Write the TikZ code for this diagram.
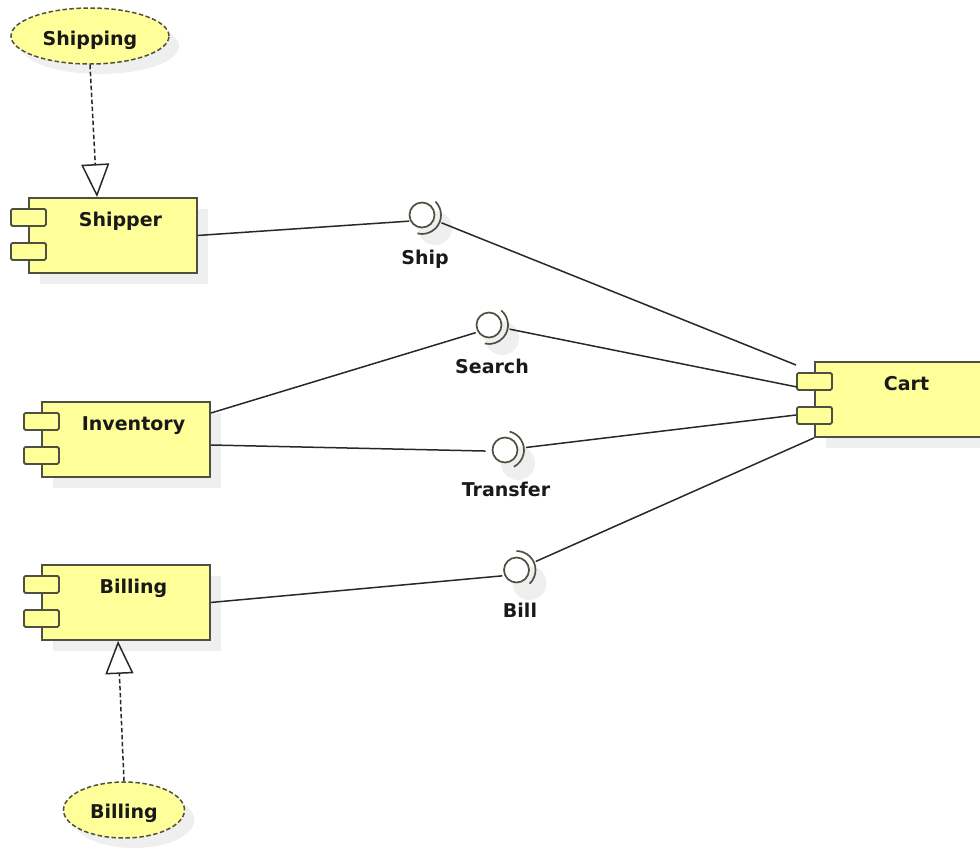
\documentclass[tikz,border=0pt]{standalone}
\usepackage{fontspec}
\setmainfont{DejaVu Sans}
\usetikzlibrary{arrows.meta,shapes.geometric,calc}

\definecolor{compfill}{RGB}{255,255,153}
\definecolor{compline}{RGB}{80,80,66}
\definecolor{wirecol}{RGB}{40,40,40}
\definecolor{shade}{RGB}{239,239,239}
\definecolor{ink}{RGB}{25,25,25}

\tikzset{
  compbox/.style={draw=compline, fill=compfill, line width=1.9pt, minimum width=168pt,
    minimum height=75pt, inner sep=0pt, anchor=north west},
  compshadow/.style={fill=shade, minimum width=168pt, minimum height=75pt, inner sep=0pt,
    anchor=north west},
  port/.style={draw=compline, fill=compfill, line width=1.8pt, minimum width=35pt,
    minimum height=17pt, inner sep=0pt, rounded corners=1.5pt, anchor=north west},
  txt/.style={font=\fontsize{19}{21}\selectfont\bfseries, text=ink, inner sep=0pt, anchor=base},
  ball/.style={circle, draw=compline, line width=1.7pt, fill=white, minimum size=25pt, inner sep=0pt},
  ballshadow/.style={circle, fill=shade, minimum size=34pt, inner sep=0pt},
  socket/.style={draw=compline, line width=1.7pt},
  wire/.style={draw=wirecol, line width=1.5pt},
  usecase/.style={ellipse, draw=compline, dash pattern=on 4.5pt off 2.5pt, fill=compfill,
    line width=1.5pt, inner sep=0pt},
  ucshadow/.style={ellipse, fill=shade, inner sep=0pt},
  realize/.style={draw=wirecol, line width=1.5pt, dash pattern=on 4.5pt off 2.5pt,
    -{Triangle[open, length=33pt, width=28pt, line width=1.5pt]}},
}

% component box with shadow, two ports and a title
\newcommand\umlcomponent[4]{%
  \node[compshadow] (#1-shadow) at (#2+12,#3-12) {};
  \node[compbox] (#1) at (#2,#3) {};
  \node[port] (#1-p1) at (#2-18,#3-11) {};
  \node[port] (#1-p2) at (#2-18,#3-45) {};
  \node[txt] (#1-label) at (#2+92.5,#3-29) {#4};
}

\begin{document}
\begin{tikzpicture}[x=1pt,y=1pt]
\useasboundingbox (0,0) rectangle (980,-847);

% use cases
\node[ucshadow, minimum width=158pt, minimum height=56pt] (shippingUC-shadow) at (100,-46) {};
\node[usecase, minimum width=158pt, minimum height=56pt] (shippingUC) at (90,-36) {};
\node[txt] (shippingUC-label) at (90,-45) {Shipping};
\node[ucshadow, minimum width=121pt, minimum height=56pt] (billingUC-shadow) at (134,-820) {};
\node[usecase, minimum width=121pt, minimum height=56pt] (billingUC) at (124,-810) {};
\node[txt] (billingUC-label) at (124,-818) {Billing};

% components
\umlcomponent{shipper}{28}{-197}{Shipper}
\umlcomponent{inventory}{41}{-401}{Inventory}
\umlcomponent{billing}{41}{-564}{Billing}
\umlcomponent{cart}{814}{-361}{Cart}

% connection points on the cart side
\coordinate (cartShip) at (796,-365);
\coordinate (cartSearch) at (797,-387);
\coordinate (cartTransfer) at (796,-415);
\coordinate (cartBill) at (cart.south west);

% interface shadows
\node[ballshadow] (shipBall-shadow) at (435,-228) {};
\node[ballshadow] (searchBall-shadow) at (502,-338) {};
\node[ballshadow] (transferBall-shadow) at (518,-463) {};
\node[ballshadow] (billBall-shadow) at (529.5,-583) {};

% provided interfaces (balls)
\node[ball] (shipBall) at (422,-215) {};
\node[ball] (searchBall) at (489,-325) {};
\node[ball] (transferBall) at (505,-450) {};
\node[ball] (billBall) at (516.5,-570) {};

% required interfaces (sockets)
\draw[socket] ([shift={(45:19pt)}]shipBall.center) arc[start angle=45, end angle=-104, radius=19pt];
\draw[socket] ([shift={(50:19pt)}]searchBall.center) arc[start angle=50, end angle=-103, radius=19pt];
\draw[socket] ([shift={(76:19pt)}]transferBall.center) arc[start angle=76, end angle=-62, radius=19pt];
\draw[socket] ([shift={(90:19pt)}]billBall.center) arc[start angle=90, end angle=-46, radius=19pt];

% interface labels
\node[txt] (shipLbl) at (425,-264) {Ship};
\node[txt] (searchLbl) at (492,-373) {Search};
\node[txt] (transferLbl) at (506,-496) {Transfer};
\node[txt] (billLbl) at (520,-617) {Bill};

% providers to balls
\draw[wire, shorten >=1pt] (shipper.east) -- (shipBall.207);
\draw[wire, shorten >=2pt] ($(inventory.north east)+(0,-12)$) -- (searchBall.212);
\draw[wire, shorten >=6pt] ($(inventory.north east)+(0,-44)$) -- (transferBall.185);
\draw[wire, shorten >=2pt] (billing.east) -- (billBall.205);

% sockets to cart
\draw[wire] ($(shipBall)!21pt!(cartShip)$) -- (cartShip);
\draw[wire] ($(searchBall)!21pt!(cartSearch)$) -- (cartSearch);
\draw[wire] ($(transferBall)!21pt!(cartTransfer)$) -- (cartTransfer);
\draw[wire] ($(billBall)!21pt!(cartBill)$) -- (cartBill);

% realizations
\draw[realize] (shippingUC.south) -- ($(shipper.north west)+(69,0)$);
\draw[realize] (billingUC.north) -- ($(billing.south west)+(77,0)$);
\end{tikzpicture}
\end{document}
